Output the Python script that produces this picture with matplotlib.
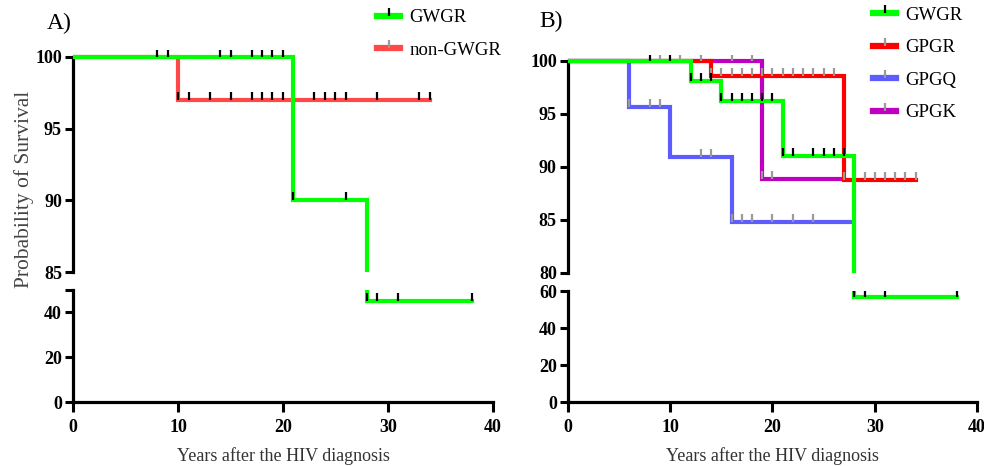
import matplotlib
matplotlib.use('Agg')
import matplotlib.pyplot as plt
from matplotlib.lines import Line2D
import numpy as np

plt.rcParams['font.family'] = ['Liberation Serif', 'DejaVu Serif']

# ---- dados (curvas de Kaplan-Meier) ----
# painel A
a_gwgr_t = [0, 21, 28, 38]
a_gwgr_s = [100, 90, 45, 45]
a_gwgr_cens = [8, 9, 14, 15, 17, 18, 19, 20, 21, 26, 28, 29, 31, 38]

a_non_t = [0, 10, 34]
a_non_s = [100, 97, 97]
a_non_cens = [10, 11, 13, 15, 17, 18, 19, 20, 23, 24, 25, 26, 29, 33, 34]

# painel B
b_gwgr_t = [0, 12, 15, 21, 28, 38]
b_gwgr_s = [100, 98.1, 96.2, 91.0, 57, 57]
b_gwgr_cens = [8, 10, 12, 13, 14, 15, 16, 17, 18, 19, 20, 21, 22, 24, 25, 26, 27,
               28, 29, 31, 38]

b_gpgr_t = [0, 14, 27, 34]
b_gpgr_s = [100, 98.6, 88.8, 88.8]
b_gpgr_cens = [9, 11, 13, 14, 15, 16, 17, 18, 19, 20, 21, 22, 23, 24, 25, 26,
               27, 29, 30, 31, 32, 33, 34]

b_gpgq_t = [0, 6, 10, 16, 28]
b_gpgq_s = [100, 95.7, 90.9, 84.8, 84.8]
b_gpgq_cens = [6, 8, 9, 13, 14, 16, 17, 18, 20, 22, 24]

b_gpgk_t = [0, 19, 27]
b_gpgk_s = [100, 88.9, 88.9]
b_gpgk_cens = [16, 18, 19, 20]

verde = '#00ff00'
cinza = '#9a9a9a'


def surv_em(t, s, x):
    # valor da curva em degrau (post) no tempo x
    idx = np.searchsorted(t, x, side='right') - 1
    return np.array(s)[idx]


def curva(axs, t, s, cens, cor, cor_tick, z):
    for ax in axs:
        ax.step(t, s, where='post', color=cor, lw=3, zorder=z, solid_joinstyle='miter')
        ax.plot(cens, surv_em(t, s, cens), ls='none', marker=2, ms=5.5, mew=1.6,
                color=cor_tick, zorder=z + 0.5)


def estilo(ax_top, ax_bot, top_ticks, bot_ticks, bot_labels, ylim_top, ylim_bot):
    for ax in (ax_top, ax_bot):
        ax.set_xlim(0, 40)
        for lado in ['top', 'right']:
            ax.spines[lado].set_visible(False)
        ax.spines['left'].set_linewidth(2.3)
        ax.spines['bottom'].set_linewidth(2.3)
        ax.tick_params(axis='both', direction='out', length=6, width=2.2,
                       labelsize=13, pad=2, colors='black')
    ax_top.set_ylim(*ylim_top)
    ax_top.spines['left'].set_bounds(top_ticks[0], top_ticks[-1])
    ax_top.spines['bottom'].set_visible(False)
    ax_top.set_xticks([])
    ax_top.set_yticks(top_ticks, [str(v) for v in top_ticks], fontweight='bold')
    ax_bot.set_ylim(*ylim_bot)
    ax_bot.set_yticks(bot_ticks, bot_labels, fontweight='bold')
    ax_bot.set_xticks([0, 10, 20, 30, 40], ['0', '10', '20', '30', '40'], fontweight='bold')
    ax_bot.tick_params(axis='x', length=7, pad=5)
    ax_bot.set_xlabel('Years after the HIV diagnosis', fontsize=13, color='#333333', labelpad=8)


fig = plt.figure(figsize=(9.84, 4.66), dpi=100)

# painel A
axA1 = fig.add_axes([0.0742, 0.4163, 0.4268, 0.4768])
axA2 = fig.add_axes([0.0742, 0.1373, 0.4268, 0.2403])
curva([axA1, axA2], a_non_t, a_non_s, a_non_cens, '#ff4848', 'black', 2)
curva([axA1, axA2], a_gwgr_t, a_gwgr_s, a_gwgr_cens, verde, 'black', 3)
estilo(axA1, axA2, [85, 90, 95, 100], [0, 20, 40, 50], ['0', '20', '40', ''],
       (85, 100.5), (0, 50))

# painel B
axB1 = fig.add_axes([0.5772, 0.4142, 0.4157, 0.4686])
axB2 = fig.add_axes([0.5772, 0.1373, 0.4157, 0.2382])
curva([axB1, axB2], b_gpgq_t, b_gpgq_s, b_gpgq_cens, '#5c5cff', cinza, 1)
curva([axB1, axB2], b_gpgk_t, b_gpgk_s, b_gpgk_cens, '#c000c0', cinza, 2)
curva([axB1, axB2], b_gpgr_t, b_gpgr_s, b_gpgr_cens, '#ff0000', cinza, 3)
curva([axB1, axB2], b_gwgr_t, b_gwgr_s, b_gwgr_cens, verde, 'black', 4)
estilo(axB1, axB2, [80, 85, 90, 95, 100], [0, 20, 40, 60], ['0', '20', '40', '60'],
       (80, 100.6), (0, 60))

# legendas
def item(cor, cor_tick):
    return Line2D([0], [0], color=cor, lw=4.5, marker=2, ms=6, mew=1.6,
                  mec=cor_tick, mfc=cor_tick)

leg_kw = dict(frameon=False, loc='upper left', handlelength=1.25, handletextpad=0.5,
              labelspacing=0.82, borderpad=0, borderaxespad=0, numpoints=1,
              prop={'size': 13.5})
fig.legend([item(verde, 'black'), item('#ff4848', cinza)], ['GWGR', 'non-GWGR'],
           bbox_to_anchor=(0.383, 0.98), **leg_kw)
fig.legend([item(verde, 'black'), item('#ff0000', cinza), item('#5c5cff', cinza),
            item('#c000c0', cinza)], ['GWGR', 'GPGR', 'GPGQ', 'GPGK'],
           bbox_to_anchor=(0.887, 0.986), **leg_kw)

fig.text(0.048, 0.95, 'A)', fontsize=17, ha='left', va='center')
fig.text(0.548, 0.955, 'B)', fontsize=17, ha='left', va='center')
fig.text(0.024, 1 - 189 / 466, 'Probability of Survival', rotation=90, fontsize=15.5,
         color='#444444', ha='center', va='center')

fig.savefig('out.png', dpi=100)
